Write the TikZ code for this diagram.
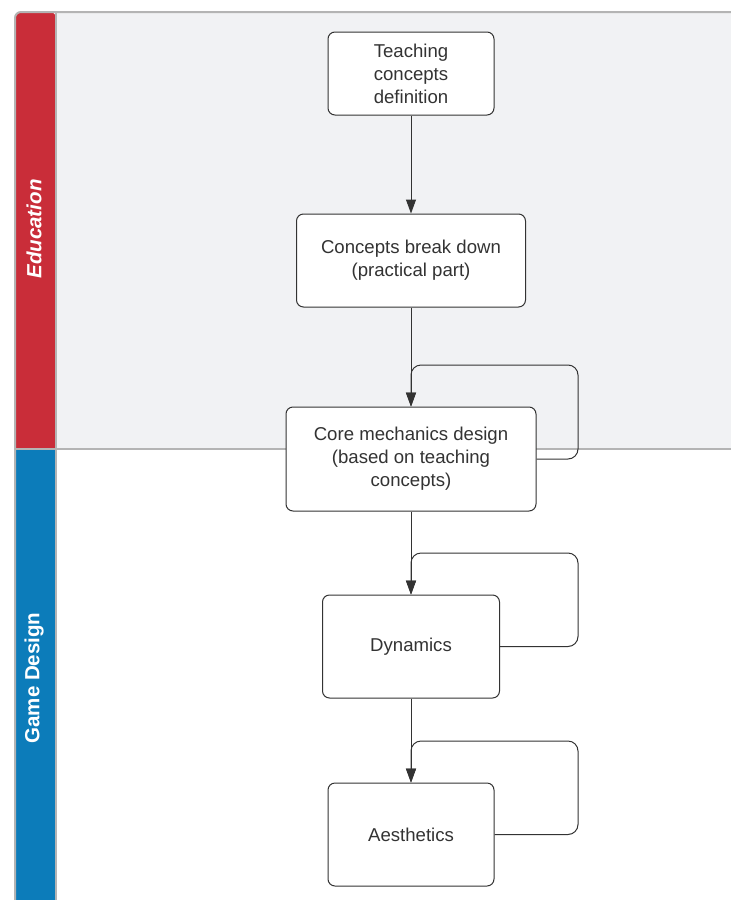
\documentclass[tikz,border=0pt]{standalone}
\usepackage{fontspec}
\setmainfont{Liberation Sans}
\usetikzlibrary{arrows.meta}
\definecolor{lred}{HTML}{C92D39}
\definecolor{lblue}{HTML}{0C7CBA}
\definecolor{lanebg}{HTML}{F1F2F4}
\definecolor{laneborder}{HTML}{B4B4B4}
\definecolor{ink}{HTML}{333333}
\tikzset{
  box/.style={draw=ink, line width=1pt, rounded corners=7pt, fill=white, align=center,
    text=ink, font=\fontsize{18.6}{23}\selectfont, inner sep=0pt},
  flow/.style={draw=ink, line width=1pt, -{Triangle[length=14pt,width=10pt]}},
  loopline/.style={draw=ink, line width=1pt, rounded corners=10pt, -{Triangle[length=14pt,width=10pt]}},
  lanelabel/.style={text=white, font=\fontsize{20.5}{24}\selectfont\bfseries, rotate=90}
}
\begin{document}
\begin{tikzpicture}[x=1pt,y=-1pt]
\useasboundingbox (0,0) rectangle (731,900);
\begin{scope}
\clip (0,0) rectangle (731,900);
% lanes
\fill[lanebg] (56,12) rectangle (740,449);
\fill[white] (56,449) rectangle (740,910);
\fill[lred, rounded corners=6pt] (15,12) -- (56,12) -- (56,449) -- (15,449) -- cycle;
\fill[lred] (15,100) rectangle (56,449);
\fill[lblue] (15,449) rectangle (56,910);
\draw[laneborder, line width=2pt, rounded corners=6pt] (740,12) -- (15,12) -- (15,910);
\draw[laneborder, line width=2pt] (56,12) -- (56,910);
\draw[laneborder, line width=2pt] (15,449) -- (740,449);
\end{scope}
\node[lanelabel, font=\fontsize{20.5}{24}\selectfont\bfseries\itshape] (edu) at (34,229) {Education};
\node[lanelabel] (gd) at (34,678) {Game Design};
% nodes
\node[box, minimum width=166pt, minimum height=83pt] (n1) at (411,73.5) {Teaching\\concepts\\definition};
\node[box, minimum width=229pt, minimum height=93pt] (n2) at (411,260.5) {Concepts break down\\(practical part)};
\node[box, minimum width=250pt, minimum height=104pt] (n3) at (411,459) {Core mechanics design\\(based on teaching\\concepts)};
\node[box, minimum width=177pt, minimum height=103pt] (n4) at (411,646.5) {Dynamics};
\node[box, minimum width=166pt, minimum height=103pt] (n5) at (411,834.5) {Aesthetics};
% connectors
\draw[flow] (n1) -- (n2);
\draw[flow] (n2) -- (n3);
\draw[flow] (n3) -- (n4);
\draw[flow] (n4) -- (n5);
\coordinate (l3) at (578,365);
\coordinate (l4) at (578,553);
\coordinate (l5) at (578,741);
\draw[loopline] (n3.east) -- (n3.east -| l3) -- (l3) -- (l3 -| n3.north) -- (n3.north);
\draw[loopline] (n4.east) -- (n4.east -| l4) -- (l4) -- (l4 -| n4.north) -- (n4.north);
\draw[loopline] (n5.east) -- (n5.east -| l5) -- (l5) -- (l5 -| n5.north) -- (n5.north);
\end{tikzpicture}
\end{document}
